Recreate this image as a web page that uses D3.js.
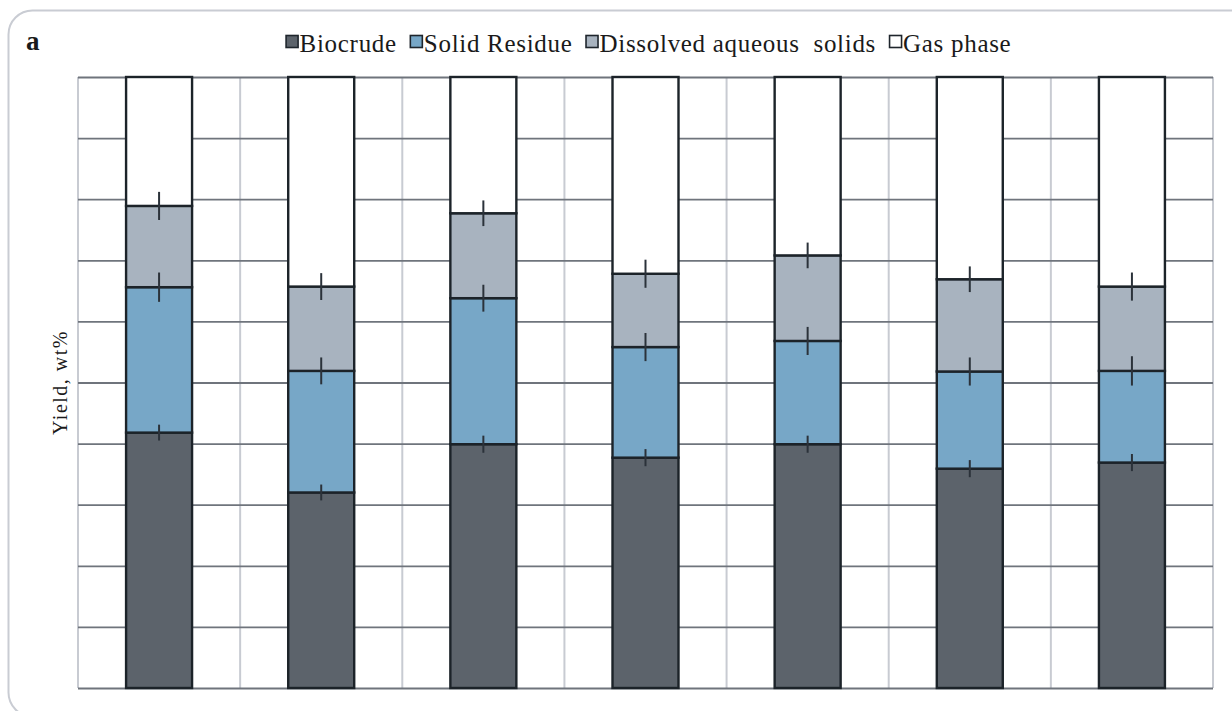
<!DOCTYPE html>
<html>
<head>
<meta charset="utf-8">
<script src="https://cdn.jsdelivr.net/npm/d3@7"></script>
<style>
  html, body { margin: 0; padding: 0; background: #ffffff; }
  svg { display: block; }
</style>
</head>
<body>
<svg id="chart" width="1232" height="711"></svg>
<script>
// Product yields (wt%) for seven runs, stacked bottom to top
const categories = ["R1", "R2", "R3", "R4", "R5", "R6", "R7"];
const seriesNames = ["Biocrude", "Solid Residue", "Dissolved aqueous  solids", "Gas phase"];
const biocrude = [41.8, 32.0, 39.9, 37.7, 39.9, 35.9, 36.9];
const solidResidue = [23.8, 19.9, 23.9, 18.1, 16.9, 15.9, 15.0];
const dissolvedSolids = [13.3, 13.8, 13.9, 12.0, 14.0, 15.1, 13.8];
const gasPhase = [21.1, 34.3, 22.3, 32.2, 29.2, 33.1, 34.3];
// standard deviations, drawn at the top of each segment (gas phase has none)
const biocrudeErr = [1.3, 1.3, 1.4, 1.4, 1.4, 1.4, 1.4];
const solidResidueErr = [2.4, 2.2, 2.2, 2.3, 2.3, 2.3, 2.4];
const dissolvedSolidsErr = [2.3, 2.2, 2.1, 2.3, 2.1, 2.1, 2.3];
const yTicks = [0, 10, 20, 30, 40, 50, 60, 70, 80, 90, 100];

const colors = ["#5c636b", "#77a7c7", "#a8b3bf", "#ffffff"];
const serif = "'Liberation Serif', 'DejaVu Serif', serif";

const rows = categories.map((c, i) => ({
  cat: c,
  "Biocrude": biocrude[i],
  "Solid Residue": solidResidue[i],
  "Dissolved aqueous  solids": dissolvedSolids[i],
  "Gas phase": gasPhase[i]
}));
const errs = [biocrudeErr, solidResidueErr, dissolvedSolidsErr, null];

const svg = d3.select("#chart");

// rounded panel frame
svg.append("rect")
  .attr("x", 8.5).attr("y", 10.5)
  .attr("width", 1260).attr("height", 706)
  .attr("rx", 24).attr("ry", 24)
  .attr("fill", "#ffffff")
  .attr("stroke", "#c9ccd3").attr("stroke-width", 2);

const plot = { left: 78, right: 1213, top: 77, bottom: 688 };

const x = d3.scaleBand()
  .domain(categories)
  .range([plot.left, plot.right])
  .paddingInner(0.593)
  .paddingOuter(0.2965);

const y = d3.scaleLinear().domain([0, 100]).range([plot.bottom, plot.top]);

// vertical grid at category boundaries
const step = x.step();
const bounds = d3.range(categories.length + 1).map(i => plot.left + i * step);
svg.append("g").selectAll("line")
  .data(bounds)
  .join("line")
  .attr("x1", d => d).attr("x2", d => d)
  .attr("y1", plot.top).attr("y2", plot.bottom)
  .attr("stroke", "#c8cbd2").attr("stroke-width", 2);

// horizontal grid from a left axis without labels
const yAxis = d3.axisLeft(y)
  .tickValues(yTicks)
  .tickSize(-(plot.right - plot.left))
  .tickFormat("");
const gy = svg.append("g")
  .attr("transform", `translate(${plot.left},0)`)
  .call(yAxis);
gy.select(".domain").remove();
gy.selectAll(".tick line")
  .attr("stroke", "#6f747c")
  .attr("stroke-width", 1.8);

// stacked bars
const stack = d3.stack().keys(seriesNames);
const layers = stack(rows);

const gBars = svg.append("g");
layers.forEach((layer, k) => {
  gBars.append("g").selectAll("rect")
    .data(layer)
    .join("rect")
    .attr("x", d => x(d.data.cat))
    .attr("width", x.bandwidth())
    .attr("y", d => y(d[1]))
    .attr("height", d => y(d[0]) - y(d[1]))
    .attr("fill", colors[k])
    .attr("stroke", "#1c2329")
    .attr("stroke-width", 2.4);
});

// error bars (no caps)
const gErr = svg.append("g");
layers.forEach((layer, k) => {
  const e = errs[k];
  if (!e) return;
  gErr.append("g").selectAll("line")
    .data(layer)
    .join("line")
    .attr("x1", d => x(d.data.cat) + x.bandwidth() / 2)
    .attr("x2", d => x(d.data.cat) + x.bandwidth() / 2)
    .attr("y1", (d, i) => y(d[1] + e[i]))
    .attr("y2", (d, i) => y(d[1] - e[i]))
    .attr("stroke", "#2b323a")
    .attr("stroke-width", 2);
});

// panel letter
svg.append("text")
  .attr("x", 26).attr("y", 50)
  .attr("font-family", serif)
  .attr("font-weight", "bold")
  .attr("font-size", 27)
  .attr("fill", "#1a1a1a")
  .text("a");

// y-axis title
svg.append("text")
  .attr("transform", `translate(67,${(plot.top + plot.bottom) / 2}) rotate(-90)`)
  .attr("text-anchor", "middle")
  .attr("font-family", serif)
  .attr("font-size", 20)
  .attr("letter-spacing", 1.5)
  .attr("fill", "#1a1a1a")
  .text("Yield, wt%");

// legend, laid out left to right and centred above the plot
const legend = svg.append("g");
const items = seriesNames.map((name, k) => {
  const g = legend.append("g");
  g.append("rect")
    .attr("x", 0.5).attr("y", -16.5)
    .attr("width", 12).attr("height", 12)
    .attr("fill", colors[k])
    .attr("stroke", "#1e252c").attr("stroke-width", 1.6);
  const t = g.append("text")
    .attr("x", 14).attr("y", 0)
    .attr("font-family", serif)
    .attr("font-size", 25)
    .attr("letter-spacing", 0.7)
    .attr("fill", "#1a1a1a")
    .style("white-space", "pre")
    .text(name);
  return { g, w: 14 + t.node().getComputedTextLength() };
});
const gap = 13;
const total = d3.sum(items, d => d.w) + gap * (items.length - 1);
let cx = 648.5 - total / 2;
items.forEach(it => {
  it.g.attr("transform", `translate(${cx},52)`);
  cx += it.w + gap;
});
</script>
</body>
</html>
